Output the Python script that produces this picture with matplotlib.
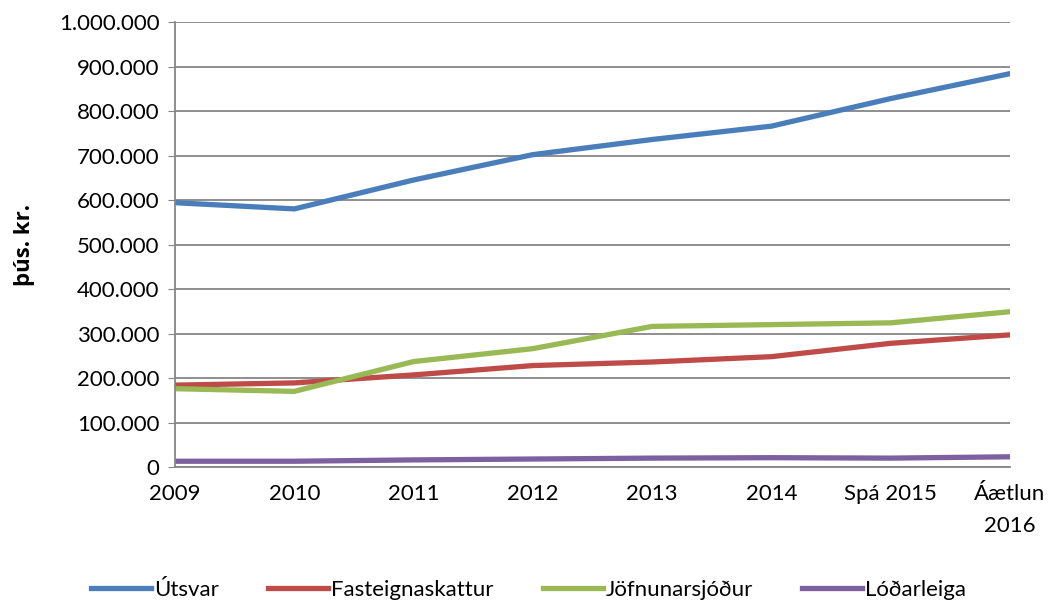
import matplotlib
matplotlib.use('Agg')
import matplotlib.pyplot as plt
from matplotlib.ticker import FuncFormatter, MultipleLocator

plt.rcParams['font.family'] = ['Lato', 'DejaVu Sans']

# Data (þús. kr.)
categories = ['2009', '2010', '2011', '2012', '2013', '2014', 'Spá 2015', 'Áætlun\n2016']
utsvar = [594000, 580000, 645000, 702000, 736000, 766000, 828000, 884000]
fasteignaskattur = [184000, 189000, 207000, 228000, 236000, 248000, 278000, 297000]
jofnunarsjodur = [176000, 170000, 237000, 266000, 316000, 320000, 324000, 349000]
lodarleiga = [13000, 13000, 16000, 18000, 20000, 21000, 20000, 23000]

series = [
    ('Útsvar', utsvar, '#4A7EBB'),
    ('Fasteignaskattur', fasteignaskattur, '#BE4B48'),
    ('Jöfnunarsjóður', jofnunarsjodur, '#98B954'),
    ('Lóðarleiga', lodarleiga, '#7D60A0'),
]

fig = plt.figure(figsize=(10.53, 6.03), dpi=100)
ax = fig.add_axes([0.1662, 0.2255, 0.7930, 0.738])

x = list(range(len(categories)))
for name, vals, col in series:
    ax.plot(x, vals, color=col, lw=3.8, label=name, solid_joinstyle='miter')

ax.set_xlim(0, len(categories) - 1)
ax.set_ylim(0, 1000000)
ax.yaxis.set_major_locator(MultipleLocator(100000))
ax.yaxis.set_major_formatter(FuncFormatter(lambda v, p: f'{int(v):,}'.replace(',', '.')))
ax.grid(axis='y', color='#868686', lw=1.3)
ax.set_axisbelow(True)

ax.set_xticks(x)
ax.set_xticklabels(categories, fontsize=16, linespacing=1.75)
ax.tick_params(axis='x', length=0, pad=12)
ax.tick_params(axis='y', labelsize=16, length=5, color='#868686', pad=6)

for s in ['top', 'right']:
    ax.spines[s].set_visible(False)
for s in ['left', 'bottom']:
    ax.spines[s].set_color('#868686')
    ax.spines[s].set_linewidth(1.3)

ax.set_ylabel('þús. kr.', fontsize=16, fontweight='bold', family=['Open Sans', 'DejaVu Sans'])
ax.yaxis.set_label_coords(-0.168, 0.5)

fig.legend(loc='center', bbox_to_anchor=(0.502, 0.022), ncol=4, frameon=False,
           fontsize=16, handlelength=2.7, columnspacing=2.2, handletextpad=0.15)

fig.savefig('out.png', dpi=100)
